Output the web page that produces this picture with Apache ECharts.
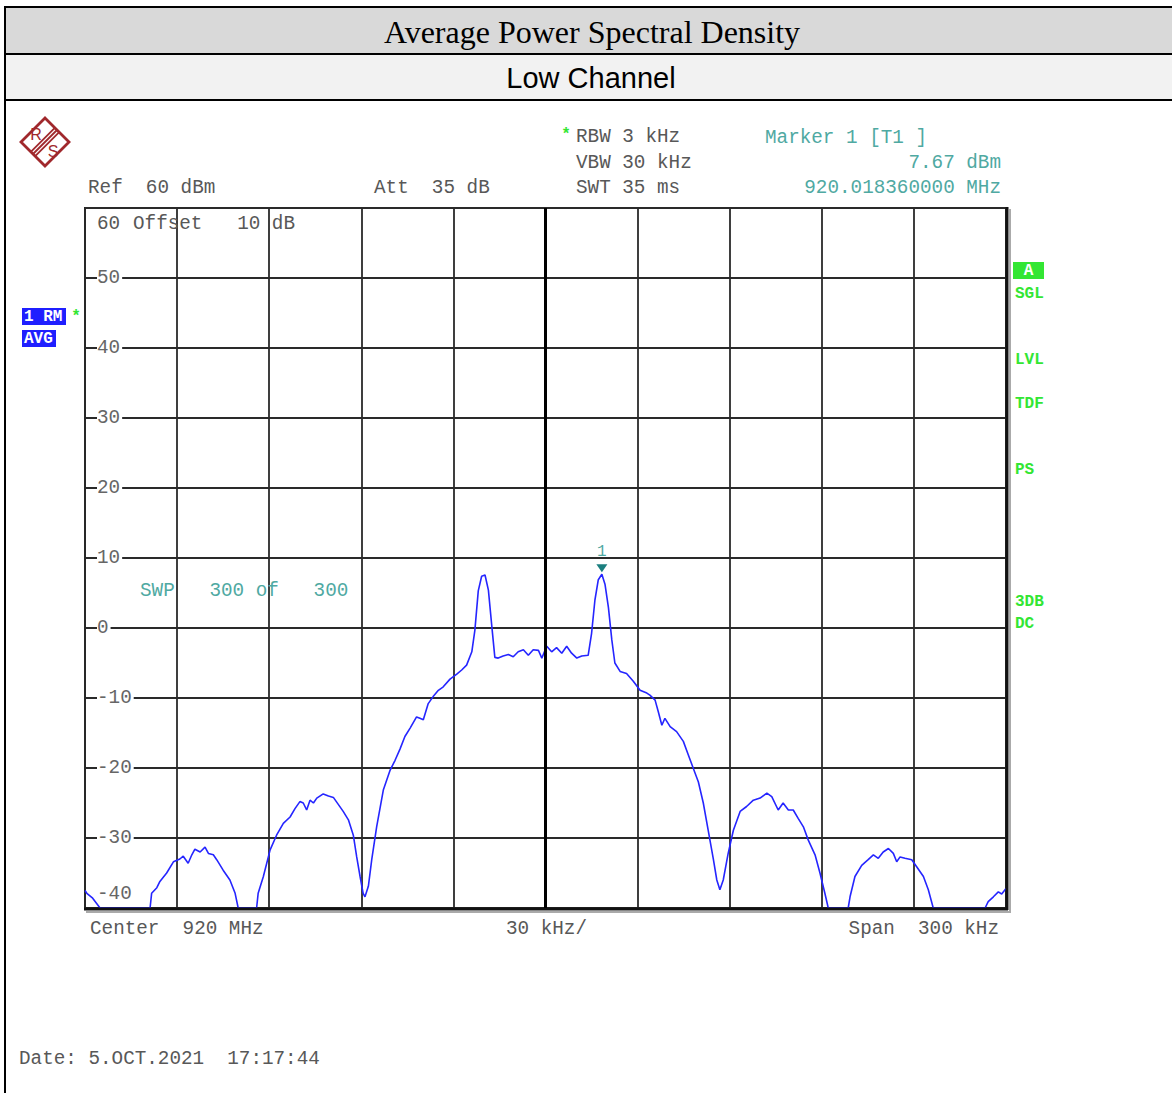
<!DOCTYPE html>
<html>
<head>
<meta charset="utf-8">
<script src="https://cdn.jsdelivr.net/npm/echarts@6/dist/echarts.min.js"></script>
<style>
html,body{margin:0;padding:0;background:#fff;}
#chart{width:1172px;height:1093px;}
</style>
</head>
<body>
<div id="chart"></div>
<script>
// ---- data (frequency offset from 920 MHz centre, kHz ; level dBm) ----
const freqKHz = [-150, -149.4, -147.5, -145.1, -128.8, -128.3, -126.6, -125.6, -123.4, -121.2,
  -119.1, -118.0, -116.4, -115.2, -114.2, -112.5, -110.9, -109.8, -108.2, -107.1,
  -105.0, -102.8, -101.1, -100.1, -94.1, -93.6, -91.9, -89.7, -87.6, -85.4,
  -83.2, -81.6, -80.0, -78.9, -77.8, -76.7, -75.6, -74.5, -72.4, -70.7,
  -69.1, -67.5, -65.9, -64.2, -62.6, -61.5, -60.4, -59.4, -58.8, -57.7,
  -56.6, -55.0, -52.8, -50.6, -49.0, -47.4, -45.8, -44.1, -42.0, -40.9,
  -39.8, -38.2, -36.6, -34.9, -33.3, -31.1, -28.9, -27.3, -25.7, -24.0,
  -23.0, -21.9, -20.8, -19.7, -18.6, -17.5, -16.5, -15.4, -13.8, -12.1,
  -10.5, -8.9, -7.2, -5.6, -4.0, -2.3, -1.2, 0.4, 2.0, 3.6,
  5.3, 6.9, 8.5, 10.2, 11.8, 13.9, 15.0, 16.1, 17.2, 18.36,
  19.4, 20.5, 21.6, 22.6, 24.3, 26.4, 28.6, 30.8, 33.0, 34.0,
  35.7, 36.7, 37.9, 38.9, 40.6, 42.7, 44.9, 46.5, 48.1, 49.8,
  51.4, 53.0, 54.7, 55.8, 56.8, 57.9, 59.5, 61.2, 63.4, 65.5,
  67.7, 69.9, 72.1, 73.7, 75.8, 77.4, 79.1, 80.7, 82.3, 84.0,
  85.6, 87.8, 89.4, 91.0, 92.1, 98.6, 99.2, 100.8, 103.0, 105.1,
  106.8, 108.4, 110.0, 111.7, 113.3, 114.4, 115.5, 117.1, 119.3, 120.9,
  123.1, 124.7, 126.3, 143.2, 144.2, 145.9, 147.5, 148.6, 150];
const levelDbm = [-37.5, -37.9, -38.6, -40, -40, -37.9, -37.1, -36.2, -35, -33.4,
  -33, -32.6, -33.6, -32.4, -31.6, -32, -31.3, -32.2, -32.4, -33.1,
  -34.6, -36, -37.9, -40, -40, -37.9, -35.5, -31.7, -29.6, -27.9,
  -27, -25.8, -24.8, -25, -26, -24.6, -25, -24.3, -23.7, -24.0,
  -24.2, -25.2, -26.2, -27.4, -29.6, -32.7, -35.5, -37.9, -38.4, -36.9,
  -33.1, -28.4, -23.1, -20.3, -18.9, -17.3, -15.5, -14.3, -12.7, -12.9,
  -13.1, -10.8, -9.8, -8.9, -8.4, -7.3, -6.6, -6.0, -5.3, -3.4,
  -0.3, 5.3, 7.4, 7.57, 5.4, 0.3, -4.2, -4.3, -4.0, -3.8,
  -4.1, -3.4, -3.1, -3.9, -3.1, -3.2, -4.3, -2.6, -3.4, -2.8,
  -3.6, -2.6, -3.6, -4.3, -4.0, -3.9, -0.8, 4.0, 6.9, 7.67,
  6.2, 2.9, -1.7, -5.0, -6.2, -6.5, -7.6, -8.9, -9.3, -9.6,
  -10.3, -11.9, -13.9, -12.9, -14.1, -14.8, -16.2, -18.1, -20.0, -22.0,
  -25.0, -28.9, -33.1, -36, -37.4, -36, -32.2, -28.9, -26.2, -25.5,
  -24.6, -24.3, -23.6, -24.1, -26, -25, -26, -26, -27.2, -28.4,
  -30.3, -32.4, -35, -37.9, -40, -40, -38.4, -35.5, -33.9, -33.1,
  -32.4, -32.9, -32, -31.5, -32.2, -33.4, -32.7, -32.9, -33.1, -34.1,
  -35.5, -37.4, -40, -40, -39.1, -38.4, -37.7, -38.0, -37.2];
const markerFreq = 18.36;   // kHz offset -> 920.018360000 MHz
const markerLevel = 7.67;   // dBm
const refLevel = 60, bottomLevel = -40, dbPerDiv = 10;
const spanMin = -150, spanMax = 150, kHzPerDiv = 30;

const titleText = 'Average Power Spectral Density';
const subTitleText = 'Low Channel';
const headerLeft = ['Ref  60 dBm', 'Att  35 dB'];
const headerMid = ['RBW 3 kHz', 'VBW 30 kHz', 'SWT 35 ms'];
const markerLines = ['Marker 1 [T1 ]', '7.67 dBm', '920.018360000 MHz'];
const footer = ['Center  920 MHz', '30 kHz/', 'Span  300 kHz'];
const dateText = 'Date: 5.OCT.2021  17:17:44';
const sideLabels = ['SGL', 'LVL', 'TDF', 'PS', '3DB', 'DC'];

const MONO = "'Liberation Mono','DejaVu Sans Mono',monospace";
const GRAY = '#585858';
const TEAL = '#4fa9a2';
const GREEN = '#33e633';
const BLUE = '#1f1fff';
const LOGO = '#a0282c';

const data = freqKHz.map((f, i) => [f, levelDbm[i]]);

const chart = echarts.init(document.getElementById('chart'), null, {renderer: 'svg'});

function txt(x, y, s, o) {
  return {type: 'text', x: x, y: y, z: 10, style: Object.assign({
    text: s, fill: GRAY, font: '19.3px ' + MONO, textAlign: 'left', textVerticalAlign: 'middle'
  }, o || {})};
}

const sideY = [294, 360, 404, 470, 602, 624];
const d = 2.2;
const graphics = [
  // table header cells
  {type: 'rect', shape: {x: 5, y: 7, width: 1180, height: 47}, style: {fill: '#d9d9d9', stroke: '#000', lineWidth: 2}},
  {type: 'rect', shape: {x: 5, y: 54, width: 1180, height: 46}, style: {fill: '#f2f2f2', stroke: '#000', lineWidth: 2}},
  {type: 'rect', shape: {x: 5, y: 100, width: 1180, height: 1000}, style: {fill: 'none', stroke: '#000', lineWidth: 2}},
  txt(592, 32, titleText, {fill: '#000', font: "32px 'Liberation Serif','Times New Roman',serif", textAlign: 'center'}),
  txt(591, 78, subTitleText, {fill: '#000', font: "29px 'Liberation Sans',Arial,sans-serif", textAlign: 'center'}),
  // R&S logo
  {type: 'polygon', shape: {points: [[45, 118], [69, 142], [45, 166], [21, 142]]}, style: {fill: 'none', stroke: LOGO, lineWidth: 2.8}},
  {type: 'line', shape: {x1: 57 - d, y1: 130 - d, x2: 33 - d, y2: 154 - d}, style: {stroke: LOGO, lineWidth: 1.8}},
  {type: 'line', shape: {x1: 57, y1: 130, x2: 33, y2: 154}, style: {stroke: LOGO, lineWidth: 1.8}},
  {type: 'line', shape: {x1: 57 + d, y1: 130 + d, x2: 33 + d, y2: 154 + d}, style: {stroke: LOGO, lineWidth: 1.8}},
  txt(36, 134, 'R', {fill: LOGO, font: "16px 'Liberation Sans',Arial,sans-serif", textAlign: 'center'}),
  txt(53, 151, 'S', {fill: LOGO, font: "16px 'Liberation Sans',Arial,sans-serif", textAlign: 'center'}),
  // instrument header texts
  txt(88, 188, headerLeft[0]),
  txt(374, 188, headerLeft[1]),
  txt(566, 135, '*', {fill: GREEN, font: 'bold 16px ' + MONO, textAlign: 'center'}),
  txt(576, 137, headerMid[0]),
  txt(576, 163, headerMid[1]),
  txt(576, 188, headerMid[2]),
  txt(765, 138, markerLines[0], {fill: TEAL}),
  txt(1001, 163, markerLines[1], {fill: TEAL, textAlign: 'right'}),
  txt(1001, 188, markerLines[2], {fill: TEAL, textAlign: 'right'}),
  txt(133, 224, 'Offset   10 dB'),
  txt(140, 591, 'SWP   300 of   300', {fill: TEAL}),
  txt(90, 929, footer[0]),
  txt(506, 929, footer[1]),
  txt(999, 929, footer[2], {textAlign: 'right'}),
  txt(19, 1059, dateText),
  // trace info boxes (left)
  {type: 'rect', shape: {x: 22, y: 308, width: 44, height: 17}, style: {fill: BLUE}},
  txt(24, 317, '1 RM', {fill: '#fff', font: 'bold 16px ' + MONO}),
  {type: 'rect', shape: {x: 22, y: 330, width: 34, height: 17}, style: {fill: BLUE}},
  txt(24, 339, 'AVG', {fill: '#fff', font: 'bold 16px ' + MONO}),
  txt(76, 317, '*', {fill: GREEN, font: 'bold 16px ' + MONO, textAlign: 'center'}),
  // right status labels
  {type: 'rect', shape: {x: 1013, y: 262, width: 31, height: 17}, style: {fill: GREEN}},
  txt(1028.5, 271, 'A', {fill: '#fff', font: 'bold 16px ' + MONO, textAlign: 'center'}),
  // thick frame right / bottom with shadow
  {type: 'line', shape: {x1: 1007, y1: 207, x2: 1007, y2: 910}, z: 5, style: {stroke: '#111', lineWidth: 3}},
  {type: 'line', shape: {x1: 1010, y1: 209, x2: 1010, y2: 912}, z: 5, style: {stroke: '#aaa', lineWidth: 2}},
  {type: 'line', shape: {x1: 84, y1: 909, x2: 1008, y2: 909}, z: 5, style: {stroke: '#111', lineWidth: 3}},
  {type: 'line', shape: {x1: 86, y1: 912, x2: 1011, y2: 912}, z: 5, style: {stroke: '#aaa', lineWidth: 2}}
];
sideLabels.forEach((s, i) => graphics.push(txt(1015, sideY[i], s, {fill: GREEN, font: 'bold 16px ' + MONO})));

const option = {
  animation: false,
  backgroundColor: '#fff',
  grid: {left: 85, top: 208, width: 921, height: 700, show: true, borderColor: '#222', borderWidth: 2, backgroundColor: 'transparent'},
  xAxis: {
    type: 'value', min: spanMin, max: spanMax, interval: kHzPerDiv,
    axisLine: {show: false}, axisTick: {show: false}, axisLabel: {show: false},
    splitLine: {show: true, lineStyle: {color: '#2a2a2a', width: 1.8}}
  },
  yAxis: {
    type: 'value', min: bottomLevel, max: refLevel, interval: dbPerDiv,
    axisLine: {show: false}, axisTick: {show: false},
    splitLine: {show: true, lineStyle: {color: '#2a2a2a', width: 1.8}},
    axisLabel: {
      inside: true, margin: 12, color: '#666', fontFamily: MONO, fontSize: 19.3,
      formatter: function (v) {
        if (v === refLevel) return '{top|' + v + '}';
        if (v === bottomLevel) return '{bot|' + v + '}';
        return '{mid|' + v + '}';
      },
      rich: {
        mid: {backgroundColor: '#fff', padding: [0, 2, 0, 0], color: '#666', fontFamily: MONO, fontSize: 19.3},
        top: {padding: [32, 0, 0, 0], color: '#585858', fontFamily: MONO, fontSize: 19.3},
        bot: {padding: [0, 0, 28, 0], color: '#666', fontFamily: MONO, fontSize: 19.3}
      }
    }
  },
  series: [{
    type: 'line', data: data, showSymbol: false, clip: true,
    lineStyle: {color: '#2525ff', width: 1.6}, z: 3,
    markLine: {
      silent: true, symbol: ['none', 'none'], label: {show: false},
      lineStyle: {color: '#000', width: 3, type: 'solid'},
      data: [{xAxis: 0}]
    },
    markPoint: {
      silent: true, symbol: 'triangle', symbolRotate: 180, symbolSize: [11, 8], symbolOffset: [0, -6],
      itemStyle: {color: '#1b7f7f'},
      label: {show: true, position: 'top', distance: 4, formatter: '1', color: TEAL, fontFamily: MONO, fontSize: 16},
      data: [{coord: [markerFreq, markerLevel]}]
    }
  }],
  graphic: graphics
};
chart.setOption(option);
</script>
</body>
</html>
